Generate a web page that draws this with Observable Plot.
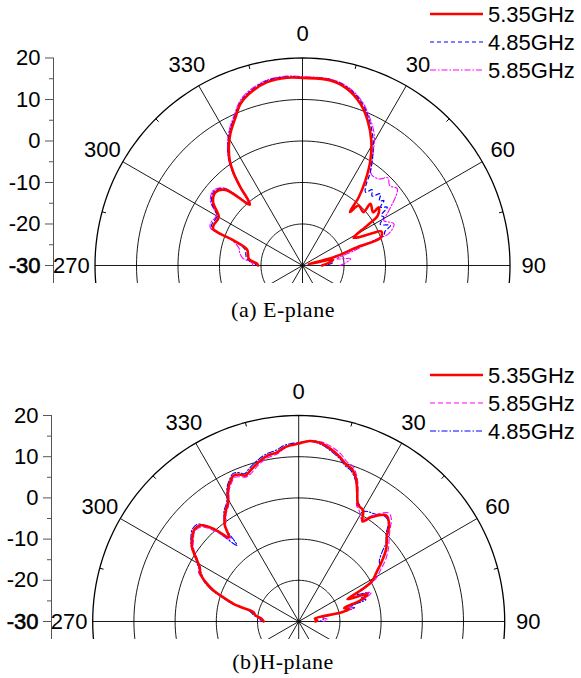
<!DOCTYPE html>
<html><head><meta charset="utf-8">
<script src="https://cdn.jsdelivr.net/npm/d3@7"></script>
<script src="https://cdn.jsdelivr.net/npm/@observablehq/plot@0.6"></script>
<style>
body{margin:0;background:#fff;}
#wrap{position:relative;width:581px;height:678px;overflow:hidden;background:#fff;font-family:"Liberation Sans",Arial,sans-serif;}
.panel{position:absolute;left:0;}
.cap{position:absolute;left:0;width:566px;text-align:center;font-family:"Liberation Serif","Times New Roman",serif;font-size:22px;letter-spacing:0.5px;line-height:24px;color:#000;}
.lg{position:absolute;left:0;top:0;width:581px;height:678px;pointer-events:none;}
</style></head><body><div id="wrap"></div>
<script>
// ---- axis / grid values ----
const ringValues = [-20, -10, 0, 10, 20];          // dB circles (center = -30 dB)
const radialTicks = [-30, -20, -10, 0, 10, 20];    // left axis labels
const radialMinor = [-25, -15, -5, 5, 15];         // left axis minor ticks
const spokeAngles = [0, 30, 60, 90, 120, 150, 180, 210, 240, 270, 300, 330];
const angleLabels = [270, 300, 330, 0, 30, 60, 90];
const minorAngles = [15, 45, 75, 285, 315, 345];
const dbMin = -30, dbMax = 20;

// ---- (a) E-plane ----
const eLabels = ["5.35GHz", "4.85GHz", "5.85GHz"];
const eAng535 = [-90,-88,-83,-74,-70,-68.9,-67.7,-65.2,-60,-54.7,-49.9,-45.5,-40.8,-38.4,-36.8,-34.7,-31.9,-28.7,-24.3,-21,-17.4,-10.9,-4.7,0,8.6,14.2,19.7,24.2,28.8,32.9,36.5,39.5,41.6,43.2,48.7,47.8,53,52.6,56.4,58.3,61.6,65,66.6,70.5,71.5,75.1,78,79,84,90];
const eDb535  = [-19.3,-19.1,-17,-16.1,-12.4,-8.8,-6.7,-6.5,-6.7,-3.6,-2.6,-4.0,-10.6,-5.9,-2.4,0.8,3.6,6.2,9.2,11.7,13.3,15.0,15.4,15.2,15.1,13.9,11.4,8.3,4.4,0.1,-4.5,-8.7,-12.8,-10.2,-10.5,-7.9,-8.7,-6.9,-8.2,-11.7,-16,-11.9,-9.3,-10,-16.1,-22.2,-28.5,-22.5,-23.5,-25.3];
const eAng485 = [-90,-88,-83,-74,-70,-69,-67.7,-65,-60,-55,-50,-45.5,-40.8,-38.4,-36.8,-34.7,-31.9,-28.7,-24.3,-21,-17.4,-10.9,-4.7,0,8.6,14.2,19.7,24.2,28.8,32.9,36.2,38.5,40.7,42.6,45,47.4,50,51.4,53.2,55.5,57.5,59.3,62,65.6,67.5,69.7,71.5,75,78,80,84,90];
const eDb485  = [-18.8,-18.6,-16.5,-15.5,-12.0,-8.4,-6.3,-6.0,-6.2,-3.2,-2.2,-3.6,-10.2,-5.5,-2.0,1.2,4.0,6.6,9.6,12.0,13.6,15.3,15.6,15.3,15.3,14.2,11.9,8.9,5.2,1.1,-2.5,-5.5,-6.7,-5.2,-6.3,-4.5,-5.8,-4.9,-6.5,-5.2,-7.5,-7.2,-8.8,-6.7,-8.5,-9.1,-15.0,-21.5,-27.5,-23.2,-22.5,-24.5];
const eAng585 = [-90,-87,-83,-78,-75,-70,-69,-67.7,-65,-60,-55,-50,-45.5,-41,-38.4,-36.8,-34.7,-31.9,-28.7,-24.3,-21,-17.4,-10.9,-4.7,0,8.6,14.2,19.7,24.2,28.8,33.6,36.8,41.4,44.2,47.5,51,53.7,55,58.6,61,65.5,69.8,70.3,74,79,82,87.6,90];
const eDb585  = [-18,-17.8,-15.5,-14.5,-14.2,-11.8,-8.2,-6.0,-5.6,-6.0,-2.9,-1.9,-3.3,-9.9,-5.2,-1.8,1.4,4.2,6.9,9.9,12.3,13.9,15.5,15.8,15.5,15.4,14.4,12.2,9.3,5.9,0.4,-2.4,-2.2,-0.5,-1.5,-0.6,-2.2,-3.3,-6.1,-7.6,-5.8,-7.9,-10.9,-17,-21.5,-18.3,-20,-21];

// ---- (b) H-plane ----
const hLabels = ["5.35GHz", "5.85GHz", "4.85GHz"];
const hAng535 = [-90,-86,-82,-78.3,-76,-74.8,-72,-70,-67,-64.1,-61,-59,-55.1,-52,-49.1,-45.7,-42.5,-39.7,-37.5,-36.3,-33.8,-31,-28,-26,-24,-22,-20,-18,-14.1,-11,-7.3,-5,-2.7,0,3.5,7.3,10.2,14,17,19,21.8,24.3,27.1,30.1,32.5,34.9,39.6,43.3,45.8,50.3,54.4,57.6,60.9,63,65.5,68.2,71,73.5,76,78,80,86.9,90];
const hDb535  = [-21.5,-21,-19.4,-18.8,-15.5,-13.6,-10.5,-8.0,-5.4,-3.5,-2.5,-1.2,1.6,2.8,3.7,3.4,0.5,-3.4,-0.5,0.4,2.0,3.4,6.5,7.8,8.8,8.5,7.7,8.4,9.9,10.9,11.4,12.3,12.8,13.2,13.9,13.6,12.7,11.2,9.7,9.3,7.4,4.5,1.7,1.2,-1.2,0.9,3.4,2.0,-0.1,-2.4,-5.3,-7.6,-9.5,-12.5,-17,-12,-14,-18.5,-17.3,-19.5,-26,-25.5,-26];
const hAng585 = [-90,-86,-82,-78,-76,-74.8,-72,-70,-67,-64,-61,-59,-55,-52,-49,-46,-43,-39.5,-38,-36,-34,-31,-28,-26,-24,-22,-20,-18,-14,-11,-7.3,-5,-2.7,0,3.5,7.3,10.2,14,17,19,21.8,24.3,26.5,29,31.5,35,39.6,42,45,48,50.3,54.4,57.6,60.9,63,65.5,68,71,73.5,76,78,81,86,90];
const hDb585  = [-20.5,-21,-19.2,-18.5,-15.5,-13.3,-10.3,-7.8,-5.6,-3.0,-2.2,-1.5,1.2,2.4,3.4,3.0,0.2,-4.2,-1.0,0,1.5,3.0,6.0,7.3,8.3,7.9,7.3,7.7,9.4,10.4,11.0,12.0,12.8,13.3,13.9,13.9,13.3,12.0,10.4,10.0,8.0,5.0,1.5,0.5,-0.8,1.4,4.2,3.6,1.3,-0.5,-1.6,-4.0,-6.4,-8.5,-11.5,-16,-11,-13,-17.5,-16.3,-19,-24,-23,-24];
const hAng485 = [-90,-86,-82,-78,-76,-74.8,-72,-70,-67,-64,-61,-59,-55,-52,-49,-46,-43,-39,-38,-36,-34,-31,-28,-26,-24,-22,-20,-18,-14,-11,-7.3,-5,-2.7,0,3.5,7.3,10.2,14,17,19,21.8,24.3,26,28,30,32,35,39.6,42,45,48,50,53,55,57,59,61,63,65,67.5,70,72,74,76,78,80,85,90];
const hDb485  = [-21,-20.5,-19,-17.8,-15,-13,-10,-7.5,-5,-3.8,-2.0,-1.0,1.8,3.2,4.2,4.0,1.0,-6.2,-1.0,0.8,2.4,3.9,7.0,8.3,9.3,9.0,8.2,9.0,10.5,11.4,12.0,12.8,13.2,13.4,13.8,13.3,12.3,10.8,9.3,8.8,7.0,4.5,2.5,1.8,1.0,1.5,1.9,3.0,2.5,0,-1.5,-3.5,-5.5,-6.0,-7.0,-8.5,-9.2,-12,-14.5,-11.5,-14,-12.8,-17,-16,-19,-24,-24,-25];

// ---- helpers ----
const rad = a => a * Math.PI / 180;
const R = db => db - dbMin;
const px = (a, db) => R(db) * Math.sin(rad(a));
const py = (a, db) => R(db) * Math.cos(rad(a));
const rows = (ang, db) => ang.slice(0, Math.min(ang.length, db.length)).map((a, i) => ({a, db: db[i]}));

const styles = {
  "5.35GHz": {stroke: "#ff0000", strokeWidth: 2.6, dash: null},
  "4.85GHz_E": {stroke: "#0000ff", strokeWidth: 1.2, dash: "4,3"},
  "5.85GHz_E": {stroke: "#ff00ff", strokeWidth: 1.1, dash: "6,2,1.5,2"},
  "5.85GHz_H": {stroke: "#ff00ff", strokeWidth: 1.1, dash: "5,3"},
  "4.85GHz_H": {stroke: "#0000ff", strokeWidth: 1.1, dash: "6,2,1.5,2"}
};

function makePanel(cfg) {
  const {height, marginLeft, marginRight, marginTop, marginBottom, yDomain, series} = cfg;
  const s = (581 - marginLeft - marginRight) / 120;
  const ringPts = [];
  for (const v of ringValues) for (let a = 0; a <= 360; a += 2) ringPts.push({v, a});
  const innerRings = ringPts.filter(d => d.v !== dbMax);
  const outerRing = ringPts.filter(d => d.v === dbMax);
  const axisX = -60;
  const marks = [
    Plot.link(spokeAngles, {x1: () => 0, y1: () => 0, x2: a => px(a, dbMax), y2: a => py(a, dbMax), stroke: "#000", strokeWidth: 0.9, clip: true}),
    Plot.line(innerRings, {x: d => px(d.a, d.v), y: d => py(d.a, d.v), z: "v", stroke: "#000", strokeWidth: 0.9, clip: true}),
    Plot.line(outerRing, {x: d => px(d.a, d.v), y: d => py(d.a, d.v), stroke: "#000", strokeWidth: 1.3, clip: true}),
    Plot.link(minorAngles, {x1: a => px(a, dbMax), y1: a => py(a, dbMax), x2: a => px(a, dbMax - 4 / s), y2: a => py(a, dbMax - 4 / s), stroke: "#000", strokeWidth: 1}),
    // left radial axis
    Plot.ruleX([axisX], {y1: () => yDomain[0], y2: () => R(dbMax), stroke: "#555", strokeWidth: 1}),
    Plot.ruleY(radialTicks, {y: t => R(t), x1: () => axisX - 8 / s, x2: () => axisX, stroke: "#555", strokeWidth: 1}),
    Plot.ruleY(radialMinor, {y: t => R(t), x1: () => axisX - 4 / s, x2: () => axisX, stroke: "#555", strokeWidth: 1}),
    Plot.text(radialTicks, {x: () => axisX - 13 / s, y: t => R(t), text: t => String(t), textAnchor: "end", lineAnchor: "middle", fontSize: 22, fill: "#000", stroke: t => t === dbMin ? "#000" : "none", strokeWidth: 0.6}),
    Plot.text(angleLabels, {x: a => (R(dbMax) + 5.7) * Math.sin(rad(a)), y: a => (R(dbMax) + 5.7) * Math.cos(rad(a)), text: a => String(a), textAnchor: "middle", lineAnchor: "middle", fontSize: 22, fill: "#000"})
  ];
  // data series (red drawn last, on top)
  const order = [...series].reverse();
  for (const sr of order) {
    marks.push(Plot.line(rows(sr.ang, sr.db), {
      x: d => px(d.a, d.db), y: d => py(d.a, d.db),
      stroke: sr.style.stroke, strokeWidth: sr.style.strokeWidth,
      strokeDasharray: sr.style.dash || undefined, strokeLinejoin: "round",
      curve: "catmull-rom", clip: true
    }));
  }
  return Plot.plot({
    width: 581, height, marginLeft, marginRight, marginTop, marginBottom,
    x: {domain: [-60, 60], axis: null},
    y: {domain: yDomain, axis: null},
    style: {fontFamily: '"Liberation Sans", Arial, sans-serif', background: "transparent", overflow: "visible"},
    marks
  });
}

const eSeries = [
  {label: eLabels[0], ang: eAng535, db: eDb535, style: styles["5.35GHz"]},
  {label: eLabels[1], ang: eAng485, db: eDb485, style: styles["4.85GHz_E"]},
  {label: eLabels[2], ang: eAng585, db: eDb585, style: styles["5.85GHz_E"]}
];
const hSeries = [
  {label: hLabels[0], ang: hAng535, db: hDb535, style: styles["5.35GHz"]},
  {label: hLabels[1], ang: hAng585, db: hDb585, style: styles["5.85GHz_H"]},
  {label: hLabels[2], ang: hAng485, db: hDb485, style: styles["4.85GHz_H"]}
];

const wrap = document.getElementById("wrap");

const p1 = makePanel({height: 292, marginLeft: 53, marginRight: 30, marginTop: 32.6, marginBottom: 9, yDomain: [-4.34, 56], series: eSeries});
p1.classList.add("panel"); p1.style.top = "0px"; wrap.appendChild(p1);

const p2 = makePanel({height: 305, marginLeft: 51, marginRight: 35.6, marginTop: 50.3, marginBottom: 6, yDomain: [-4.37, 56], series: hSeries});
p2.classList.add("panel"); p2.style.top = "340px"; wrap.appendChild(p2);

// captions
const c1 = document.createElement("div"); c1.className = "cap"; c1.style.top = "298px"; c1.textContent = "(a) E-plane"; wrap.appendChild(c1);
const c2 = document.createElement("div"); c2.className = "cap"; c2.style.top = "650px"; c2.textContent = "(b)H-plane"; wrap.appendChild(c2);

// legends
const NS = "http://www.w3.org/2000/svg";
const lg = document.createElementNS(NS, "svg");
lg.setAttribute("class", "lg"); lg.setAttribute("width", 581); lg.setAttribute("height", 678);
function addLegend(series, ys) {
  series.forEach((sr, i) => {
    const y = ys[i];
    const ln = document.createElementNS(NS, "line");
    ln.setAttribute("x1", 430); ln.setAttribute("x2", 483); ln.setAttribute("y1", y); ln.setAttribute("y2", y);
    ln.setAttribute("stroke", sr.style.stroke); ln.setAttribute("stroke-width", sr.style.strokeWidth);
    if (sr.style.dash) ln.setAttribute("stroke-dasharray", sr.style.dash);
    lg.appendChild(ln);
    const tx = document.createElementNS(NS, "text");
    tx.setAttribute("x", 488); tx.setAttribute("y", y); tx.setAttribute("dy", "0.35em");
    tx.setAttribute("font-size", 22); tx.setAttribute("font-family", '"Liberation Sans", Arial, sans-serif');
    tx.textContent = sr.label;
    lg.appendChild(tx);
  });
}
addLegend(eSeries, [14, 42, 70]);
addLegend(hSeries, [375, 403, 431]);
wrap.appendChild(lg);
</script></body></html>
